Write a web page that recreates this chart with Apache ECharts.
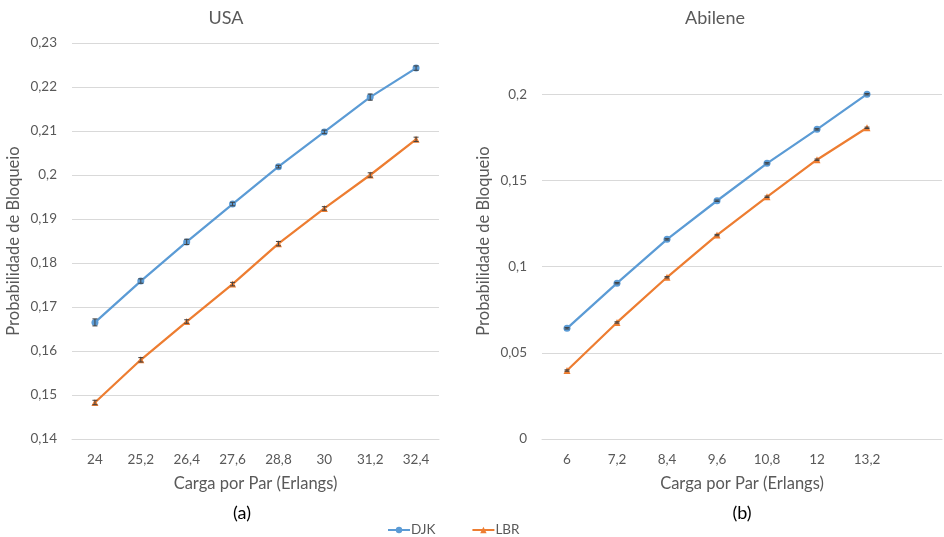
<!DOCTYPE html>
<html><head><meta charset="utf-8">
<script src="https://cdn.jsdelivr.net/npm/echarts@6/dist/echarts.min.js"></script>
<style>html,body{margin:0;padding:0;background:#fff}#c{width:944px;height:537px}</style>
</head><body><div id="c"></div>
<script>
const catsA = ['24','25,2','26,4','27,6','28,8','30','31,2','32,4'];
const djkA = [0.1665,0.1759,0.1848,0.1934,0.2019,0.2098,0.2177,0.2243];
const lbrA = [0.1483,0.1580,0.1667,0.1752,0.1844,0.1924,0.2000,0.2081];
const djkAErr = [0.0008,0.0005,0.0006,0.0004,0.0003,0.0004,0.0007,0.0005];
const lbrAErr = [0.0005,0.0005,0.0004,0.0004,0.0005,0.0004,0.0005,0.0005];

const catsB = ['6','7,2','8,4','9,6','10,8','12','13,2',''];
const djkB = [0.0642,0.0904,0.1158,0.1382,0.1599,0.1796,0.2000];
const lbrB = [0.0397,0.0676,0.0938,0.1183,0.1405,0.1620,0.1805];
const djkBErr = [0.0004,0.0004,0.0004,0.0004,0.0004,0.0004,0.0004];
const lbrBErr = [0.0004,0.0004,0.0004,0.0004,0.0004,0.0004,0.0004];

const FONT = 'Lato';
const TXT = '#595959';
const BLUE = '#5B9BD5', ORANGE = '#ED7D31';

function fmt(v){ return String(+v.toFixed(4)).replace('.', ','); }

function errData(vals, errs){ return vals.map((v,i)=>[i, v-errs[i], v+errs[i]]); }
function errSeries(name, vals, errs, idx){
  return {
    type:'custom', name: name, xAxisIndex: idx, yAxisIndex: idx, z: 5,
    data: errData(vals, errs), silent:true,
    renderItem: function(params, api){
      const lo = api.coord([api.value(0), api.value(1)]);
      const hi = api.coord([api.value(0), api.value(2)]);
      const w = 2.5;
      const st = {stroke:'#404040', lineWidth:1};
      return {type:'group', children:[
        {type:'line', shape:{x1:lo[0],y1:lo[1],x2:hi[0],y2:hi[1]}, style:st},
        {type:'line', shape:{x1:lo[0]-w,y1:lo[1],x2:lo[0]+w,y2:lo[1]}, style:st},
        {type:'line', shape:{x1:hi[0]-w,y1:hi[1],x2:hi[0]+w,y2:hi[1]}, style:st}
      ]};
    }
  };
}
function lineSeries(name, vals, idx, color, symbol){
  return {type:'line', name:name, xAxisIndex:idx, yAxisIndex:idx, data:vals,
    symbol:symbol, symbolSize: symbol==='circle'?7:7, z:3,
    lineStyle:{color:color, width:2.25}, itemStyle:{color:color}};
}
const xAxisBase = (cats, idx)=>({
  type:'category', gridIndex: idx, data: cats, boundaryGap:true,
  name:'Carga por Par (Erlangs)', nameLocation:'middle', nameGap:36,
  nameTextStyle:{fontFamily:FONT, fontSize:16.5, color:TXT},
  axisLine:{lineStyle:{color:'#D9D9D9'}}, axisTick:{show:false},
  axisLabel:{fontFamily:FONT, fontSize:13.5, color:TXT, margin:14}
});
const yAxisBase = (idx)=>({
  type:'value', gridIndex: idx,
  name:'Probabilidade de Bloqueio', nameLocation:'middle', nameGap:50,
  nameTextStyle:{fontFamily:FONT, fontSize:16.5, color:TXT},
  axisLine:{show:false}, axisTick:{show:false},
  splitLine:{lineStyle:{color:'#D9D9D9'}},
  axisLabel:{fontFamily:FONT, fontSize:13.5, color:TXT, margin:15, formatter: fmt}
});

const chart = echarts.init(document.getElementById('c'), null, {renderer:'canvas'});
chart.setOption({
  backgroundColor:'#fff',
  animation:false,
  title:[
    {text:'USA', left:221, top:4, textAlign:'center', textStyle:{fontFamily:FONT, fontSize:18, fontWeight:'normal', color:TXT}},
    {text:'Abilene', left:710, top:4, textAlign:'center', textStyle:{fontFamily:FONT, fontSize:18, fontWeight:'normal', color:TXT}},
    {text:'(a)', left:237, top:499, textAlign:'center', textStyle:{fontFamily:FONT, fontSize:18, fontWeight:'normal', color:'#000'}},
    {text:'(b)', left:737, top:499, textAlign:'center', textStyle:{fontFamily:FONT, fontSize:18, fontWeight:'normal', color:'#000'}}
  ],
  legend:{data:['DJK','LBR'], left:382, top:518, itemGap:36, itemWidth:22, itemHeight:8,
    textStyle:{fontFamily:FONT, fontSize:13.5, color:TXT, padding:[0,0,0,-4]}},
  grid:[
    {left:72, right:505, top:43, bottom:98},
    {left:542, right:2, top:43, bottom:98}
  ],
  xAxis:[ xAxisBase(catsA,0), xAxisBase(catsB,1) ],
  yAxis:[
    Object.assign(yAxisBase(0), {min:0.14, max:0.23, interval:0.01}),
    Object.assign(yAxisBase(1), {min:0, max:0.2297, interval:0.05,
      axisLabel:{fontFamily:FONT, fontSize:13.5, color:TXT, margin:15, formatter: fmt, showMaxLabel:false},
      splitLine:{lineStyle:{color:'#D9D9D9'}, showMaxLine:false}})
  ],
  series:[
    lineSeries('DJK', djkA, 0, BLUE, 'circle'),
    lineSeries('LBR', lbrA, 0, ORANGE, 'triangle'),
    lineSeries('DJK', djkB, 1, BLUE, 'circle'),
    lineSeries('LBR', lbrB, 1, ORANGE, 'triangle'),
    errSeries('errDJKa', djkA, djkAErr, 0),
    errSeries('errLBRa', lbrA, lbrAErr, 0),
    errSeries('errDJKb', djkB, djkBErr, 1),
    errSeries('errLBRb', lbrB, lbrBErr, 1)
  ]
});
</script></body></html>
